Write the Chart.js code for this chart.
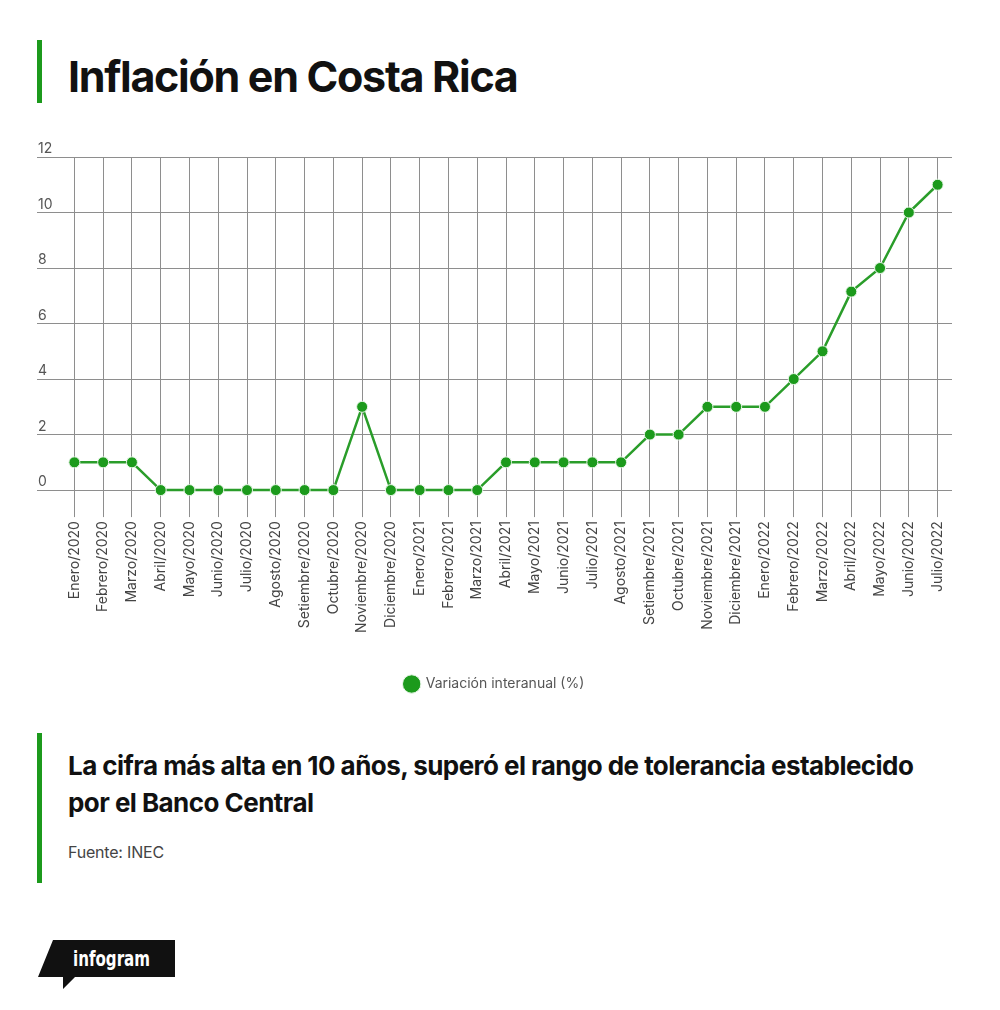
<!DOCTYPE html>
<html lang="es">
<head>
<meta charset="utf-8">
<title>Inflación en Costa Rica</title>
<script src="https://cdn.jsdelivr.net/npm/chart.js@4.4.1/dist/chart.umd.min.js"></script>
<style>
    body { margin: 0; background: #fff; font-family: Inter, "Noto Sans", sans-serif; }
    #page { position: relative; width: 1000px; height: 1010px; overflow: hidden; }
    .bar { position: absolute; left: 37px; width: 5px; background: #1c9a1c; }
    #title { position: absolute; left: 68px; top: 48px; margin: 0; font-size: 43px; font-weight: 700; letter-spacing: -1.3px; color: #111; line-height: 56px; white-space: nowrap; }
    #subtitle { position: absolute; left: 68px; top: 747px; margin: 0; font-size: 26px; font-weight: 700; letter-spacing: -0.55px; color: #111; line-height: 37px; width: 870px; }
    #source { position: absolute; left: 68px; top: 842px; font-size: 16px; color: #444; letter-spacing: -0.2px; }
    #chart-box { position: absolute; left: 0; top: 140px; width: 1000px; height: 570px; }
    #logo { position: absolute; left: 0; top: 930px; }
</style>
</head>
<body>
<div id="page">
    <div class="bar" style="top: 40px; height: 63px;"></div>
    <h1 id="title">Inflación en Costa Rica</h1>

    <div id="chart-box"><canvas id="inflation-chart"></canvas></div>

    <div class="bar" style="top: 733px; height: 150px;"></div>
    <p id="subtitle">La cifra más alta en 10 años, superó el rango de tolerancia establecido por el Banco Central</p>
    <div id="source">Fuente: INEC</div>

    <svg id="logo" width="200" height="70">
        <polygon points="53,10 175,10 175,47 75,47 63,59 63,47 38,47" fill="#111"/>
        <text x="73" y="36" fill="#fff" font-family="'DejaVu Sans Condensed', 'Liberation Sans Narrow', sans-serif" font-weight="700" font-size="21" textLength="77" lengthAdjust="spacingAndGlyphs">infogram</text>
    </svg>
</div>

<script>
// Chart data
const months = [
    'Enero/2020', 'Febrero/2020', 'Marzo/2020', 'Abril/2020', 'Mayo/2020', 'Junio/2020',
    'Julio/2020', 'Agosto/2020', 'Setiembre/2020', 'Octubre/2020', 'Noviembre/2020', 'Diciembre/2020',
    'Enero/2021', 'Febrero/2021', 'Marzo/2021', 'Abril/2021', 'Mayo/2021', 'Junio/2021',
    'Julio/2021', 'Agosto/2021', 'Setiembre/2021', 'Octubre/2021', 'Noviembre/2021', 'Diciembre/2021',
    'Enero/2022', 'Febrero/2022', 'Marzo/2022', 'Abril/2022', 'Mayo/2022', 'Junio/2022', 'Julio/2022'
];
const variation = [
    1, 1, 1, 0, 0, 0,
    0, 0, 0, 0, 3, 0,
    0, 0, 0, 1, 1, 1,
    1, 1, 2, 2, 3, 3,
    3, 4, 5, 7.15, 8, 10, 11
];
const seriesName = 'Variación interanual (%)';
const yTicks = [0, 2, 4, 6, 8, 10, 12];

const green = '#1c9a1c';
const gridColor = '#8e8e8e';

document.addEventListener('DOMContentLoaded', () => {
    // y labels sit above their grid line, at the far left
    const yLabels = {
        id: 'yLabels',
        afterDraw(chart) {
            const y = chart.scales.y;
            const ctx = chart.ctx;
            ctx.save();
            ctx.font = '14px Inter';
            ctx.fillStyle = '#555';
            ctx.textAlign = 'left';
            ctx.textBaseline = 'bottom';
            y.ticks.forEach(t => {
                ctx.fillText(String(t.value), y.left + 1, y.getPixelForValue(t.value) - 1);
            });
            ctx.restore();
        }
    };

    const ctx = document.getElementById('inflation-chart').getContext('2d');
    new Chart(ctx, {
        type: 'line',
        data: {
            labels: months,
            datasets: [{
                label: seriesName,
                data: variation,
                borderColor: '#2a9d2a',
                backgroundColor: green,
                borderWidth: 2.5,
                pointRadius: 5.5,
                pointBackgroundColor: green,
                pointBorderColor: '#e8f5e8',
                pointBorderWidth: 1,
                tension: 0,
                clip: false
            }]
        },
        options: {
            responsive: true,
            maintainAspectRatio: false,
            animation: false,
            layout: { padding: { left: 37, right: 48, top: 17, bottom: 9 } },
            plugins: {
                legend: {
                    position: 'bottom',
                    labels: {
                        usePointStyle: true,
                        pointStyle: 'circle',
                        boxHeight: 13,
                        padding: 10,
                        color: '#555',
                        font: { family: 'Inter', size: 14 }
                    }
                },
                tooltip: { enabled: false }
            },
            scales: {
                x: {
                    offset: true,
                    grid: { offset: false, color: gridColor, lineWidth: 1, tickLength: 27 },
                    border: { display: false },
                    ticks: {
                        autoSkip: false,
                        minRotation: 90,
                        maxRotation: 90,
                        padding: 4,
                        color: '#444',
                        font: { family: 'Inter', size: 14 }
                    },
                    afterFit(scale) { scale.height += 30; }
                },
                y: {
                    min: yTicks[0],
                    max: yTicks[yTicks.length - 1],
                    afterBuildTicks(scale) { scale.ticks = yTicks.map(v => ({ value: v })); },
                    grid: { color: gridColor, lineWidth: 1, tickLength: 23 },
                    border: { display: false },
                    ticks: { display: false }
                }
            }
        },
        plugins: [yLabels]
    });
});
</script>
</body>
</html>
